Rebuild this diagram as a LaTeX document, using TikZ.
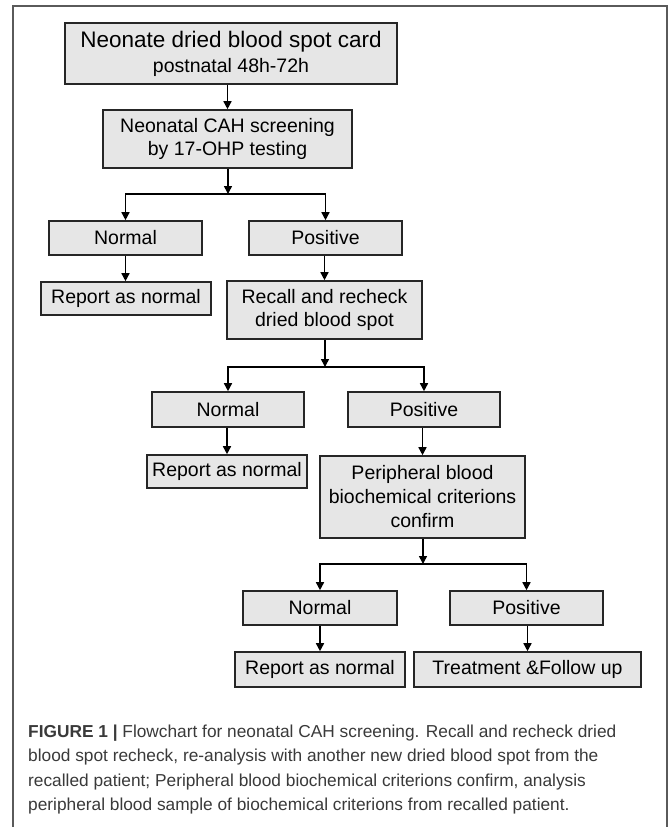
\documentclass[tikz,border=0pt]{standalone}
\usepackage{fontspec}
\setmainfont{Liberation Sans}
\usetikzlibrary{arrows.meta}

\definecolor{boxfill}{HTML}{E6E6E6}
\definecolor{captiongray}{HTML}{3A3A3A}
\definecolor{framegray}{HTML}{5A5A5A}

\tikzset{
  flowbox/.style={draw=black!85, fill=boxfill, line width=1.6pt, inner sep=0pt,
    align=center, font=\fontsize{19.5}{23}\selectfont},
  flowarrow/.style={line width=1.5pt, -{Triangle[length=8pt,width=8pt]}},
}

\begin{document}
\begin{tikzpicture}[x=1pt, y=-1pt]
        % Page and frame
        \useasboundingbox (0,0) rectangle (669,827);
        \fill[white] (0,0) rectangle (669,827);
        \draw[framegray, line width=1.5pt] (13,830) -- (13,6) -- (667,6) -- (667,830);

        % First screening
        \node[flowbox, minimum width=332pt, minimum height=61pt, font=\fontsize{19.5}{25}\selectfont] (card) at (231,53.5)
          {{\fontsize{22.5}{25}\selectfont Neonate dried blood spot card}\\postnatal 48h-72h};
        \node[flowbox, minimum width=249pt, minimum height=58pt] (screen) at (227.5,139) {Neonatal CAH screening\\by 17-OHP testing};
        \node[flowbox, minimum width=153pt, minimum height=34pt] (normA) at (125.5,238) {Normal};
        \node[flowbox, minimum width=153pt, minimum height=34pt] (posA) at (325.5,238) {Positive};
        \node[flowbox, minimum width=170pt, minimum height=33pt] (reportA) at (126,298.5) {Report as normal};

        % Recall
        \node[flowbox, minimum width=195pt, minimum height=58pt] (recall) at (324.5,310) {Recall and recheck\\dried blood spot};
        \node[flowbox, minimum width=152pt, minimum height=35pt] (normB) at (228,409.5) {Normal};
        \node[flowbox, minimum width=152pt, minimum height=35pt] (posB) at (424,409.5) {Positive};
        \node[flowbox, minimum width=160pt, minimum height=33pt] (reportB) at (227,471.5) {Report as normal};

        % Confirmation
        \node[flowbox, minimum width=205pt, minimum height=82pt, font=\fontsize{19.5}{24}\selectfont] (periph) at (422.5,497)
          {Peripheral blood\\biochemical criterions\\confirm};
        \node[flowbox, minimum width=154pt, minimum height=34pt] (normC) at (320,608) {Normal};
        \node[flowbox, minimum width=153pt, minimum height=34pt] (posC) at (526.5,608) {Positive};
        \node[flowbox, minimum width=170pt, minimum height=35pt] (reportC) at (320,669.5) {Report as normal};
        \node[flowbox, minimum width=227pt, minimum height=35pt] (treat) at (527.5,669.5) {Treatment \&Follow up};

        % Split points
        \coordinate (splitA) at (228,194);
        \coordinate (splitB) at (325,367);
        \coordinate (splitC) at (423,564);

        % Connectors
        \draw[flowarrow] (screen.north |- card.south) -- (screen.north);
        \draw[flowarrow] (screen.south -| splitA) -- (splitA);
        \draw[flowarrow] (splitA) -| (normA.north);
        \draw[flowarrow] (splitA) -| (posA.north);
        \draw[flowarrow] (normA.south) -- (normA.south |- reportA.north);
        \draw[flowarrow] (posA.south -| recall.north) -- (recall.north);

        \draw[flowarrow] (recall.south -| splitB) -- (splitB);
        \draw[flowarrow] (splitB) -| (normB.north);
        \draw[flowarrow] (splitB) -| (posB.north);
        \draw[flowarrow] (normB.south -| reportB.north) -- (reportB.north);
        \draw[flowarrow] (posB.south -| periph.north) -- (periph.north);

        \draw[flowarrow] (periph.south -| splitC) -- (splitC);
        \draw[flowarrow] (splitC) -| (normC.north);
        \draw[flowarrow] (splitC) -| (posC.north);
        \draw[flowarrow] (normC.south) -- (reportC.north);
        \draw[flowarrow] (posC.south -| treat.north) -- (treat.north);

        % Caption (anchored at the baseline of its last line)
        \node[anchor=base west, align=left, inner sep=0pt, text=captiongray, font=\fontsize{17.3}{24.5}\selectfont] (caption) at (28,810.5)
          {\textbf{FIGURE 1 |} Flowchart for neonatal CAH screening. Recall and recheck dried\\
           blood spot recheck, re-analysis with another new dried blood spot from the\\
           recalled patient; Peripheral blood biochemical criterions confirm, analysis\\
           peripheral blood sample of biochemical criterions from recalled patient.};
\end{tikzpicture}
\end{document}
